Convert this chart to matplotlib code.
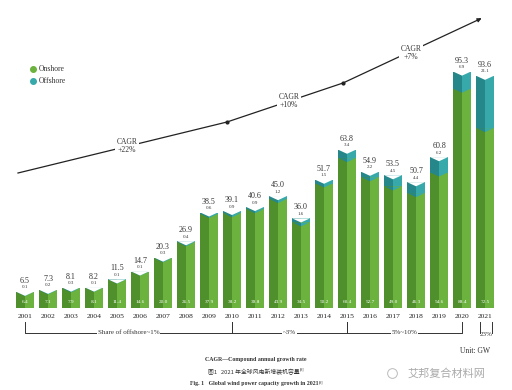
import matplotlib
matplotlib.use("Agg")
import matplotlib.pyplot as plt
import numpy as np

years = list(range(2001, 2022))
totals = [6.5, 7.3, 8.1, 8.2, 11.5, 14.7, 20.3, 26.9, 38.5, 39.1, 40.6, 45.0,
          36.0, 51.7, 63.8, 54.9, 53.5, 50.7, 60.8, 95.3, 93.6]
offshore = [0.1, 0.2, 0.3, 0.1, 0.1, 0.1, 0.3, 0.4, 0.6, 0.9, 0.9, 1.2,
            1.6, 1.5, 3.4, 2.2, 4.5, 4.4, 6.2, 6.9, 21.1]
onshore = [6.4, 7.1, 7.9, 8.1, 11.4, 14.6, 20.0, 26.5, 37.9, 38.2, 39.8, 43.9,
           34.5, 50.2, 60.4, 52.7, 49.0, 46.3, 54.6, 88.4, 72.5]
share_groups = [("Share of offshore~1%", 2001, 2010),
                ("~3%", 2010, 2015),
                ("5%~10%", 2015, 2020)]
cagr_labels = ["CAGR\n+22%", "CAGR\n+10%", "CAGR\n+7%"]

SERIF = ["Liberation Serif", "DejaVu Serif"]
CJK = ["Noto Sans CJK SC", "DejaVu Sans"]
ON_D, ON_L = "#4f8f2c", "#6cb23e"
OFF_D, OFF_L = "#25878a", "#37a9ab"

fig = plt.figure(figsize=(5.12, 3.9), dpi=100)
W, H = 512, 390
px_per = 2.48
left_px, right_px, bot_px, top_px = 10, 502, 308, 10
ax = fig.add_axes([left_px / W, (H - bot_px) / H, (right_px - left_px) / W,
                   (bot_px - top_px) / H])
xlo = 2001 - 15 / 23
ax.set_xlim(xlo, xlo + (right_px - left_px) / 23)
ax.set_ylim(0, (bot_px - top_px) / px_per)
ax.axis("off")

x = np.array(years, dtype=float)
on = np.array(onshore)
off = np.array(offshore)
bw = 0.74
hw = bw / 2
notch = 4 / px_per

ax.bar(x - hw / 2, on, width=hw, color=ON_D, linewidth=0)
ax.bar(x + hw / 2, on, width=hw, color=ON_L, linewidth=0)
ax.bar(x - hw / 2, off, bottom=on, width=hw, color=OFF_D, linewidth=0)
ax.bar(x + hw / 2, off, bottom=on, width=hw, color=OFF_L, linewidth=0)

for xi, o, f, t in zip(x, on, off, totals):
    top = o + f
    ax.fill([xi - hw, xi, xi, xi - hw], [o, o - notch, o, o], color=OFF_D, lw=0)
    ax.fill([xi, xi + hw, xi + hw, xi], [o - notch, o, o, o], color=OFF_L, lw=0)
    ax.fill([xi - hw - 0.02, xi, xi + hw + 0.02], [top + 0.05, top - notch, top + 0.05],
            color="white", lw=0)
    ax.text(xi, top + 11 / px_per, f"{t:.1f}", ha="center", va="center",
            fontsize=5.8, family=SERIF, color="#333333")
    ax.text(xi, top + 4.5 / px_per, f"{f:.1f}", ha="center", va="center",
            fontsize=3.6, family=SERIF, color="#333333")
    ax.text(xi, 6 / px_per, f"{o:.1f}", ha="center", va="center",
            fontsize=3.8, family=SERIF, color="white")
    ax.text(xi, -8 / px_per, str(int(xi)), ha="center", va="center",
            fontsize=5.4, family=SERIF, color="#222222")

yb0, yb1 = -14 / px_per, -25 / px_per
for label, a, b in share_groups:
    ax.plot([a, a, b, b], [yb0, yb1, yb1, yb0], color="#333333", lw=0.7,
            clip_on=False)
    ax.text((a + b) / 2, yb1, label, ha="center", va="center", fontsize=5,
            family=SERIF, color="#333333",
            bbox=dict(boxstyle="square,pad=0.15", fc="white", ec="none"))
ax.plot([2021 - 0.22, 2021 - 0.22], [yb0, yb1], color="#333333", lw=0.7, clip_on=False)
ax.plot([2021 + 0.3, 2021 + 0.3], [yb0, yb1], color="#333333", lw=0.7, clip_on=False)
ax.text(2021 + 0.04, yb1 - 1.5 / px_per, "23%", ha="center", va="center",
        fontsize=5, family=SERIF, color="#333333")

ov = fig.add_axes([0, 0, 1, 1], zorder=3)
ov.set_xlim(0, W)
ov.set_ylim(H, 0)
ov.axis("off")
ov.patch.set_alpha(0)

lx = [18, 227, 343, 480]
ly = [173, 122, 83, 19]
ov.plot(lx, ly, color="#222222", lw=0.9)
ov.plot(lx[1:3], ly[1:3], "o", color="#222222", ms=2)
ov.annotate("", xy=(484, 17), xytext=(476, 21),
            arrowprops=dict(arrowstyle="-|>", color="#222222", lw=0.8,
                            mutation_scale=6))
for (tx, ty), lab in zip([(127, 146), (289, 101), (411, 53)], cagr_labels):
    ov.text(tx, ty, lab, ha="center", va="center", fontsize=5.5, family=SERIF,
            color="#333333", linespacing=1.1,
            bbox=dict(boxstyle="square,pad=0.25", fc="white", ec="none"))

ov.plot([33], [69], "o", color=ON_L, ms=4)
ov.plot([33], [81], "o", color=OFF_L, ms=4)
ov.text(39, 69, "Onshore", ha="left", va="center", fontsize=5.5, family=SERIF,
        color="#333333")
ov.text(39, 81, "Offshore", ha="left", va="center", fontsize=5.5, family=SERIF,
        color="#333333")

ov.text(490, 351, "Unit: GW", ha="right", va="center", fontsize=5.5,
        family=SERIF, color="#333333")

ov.text(256, 359, "CAGR—Compound annual growth rate", ha="center", va="center",
        fontsize=4.2, family=SERIF, color="#333333", fontweight="bold")
t2 = ov.text(254, 372, "图1   2021 年全球风电新增装机容量", ha="center",
             va="center", fontsize=4.2, family=CJK, color="#333333")
ov.annotate("[9]", xy=(1, 0.85), xycoords=t2, ha="left", va="center",
            fontsize=2.8, family=SERIF, color="#333333")
t3 = ov.text(254, 384, "Fig. 1   Global wind power capacity growth in 2021",
             ha="center", va="center", fontsize=4.2, family=SERIF,
             color="#333333", fontweight="bold")
ov.annotate("[9]", xy=(1, 0.85), xycoords=t3, ha="left", va="center",
            fontsize=2.8, family=SERIF, color="#333333")
ov.text(485, 373, "艾邦复合材料网", ha="right", va="center", fontsize=8,
        family=CJK, color="#aaaaaa")
ov.plot([392], [373], "o", ms=7, mfc="none", mec="#bbbbbb", mew=0.7)

fig.savefig("out.png", dpi=100)
